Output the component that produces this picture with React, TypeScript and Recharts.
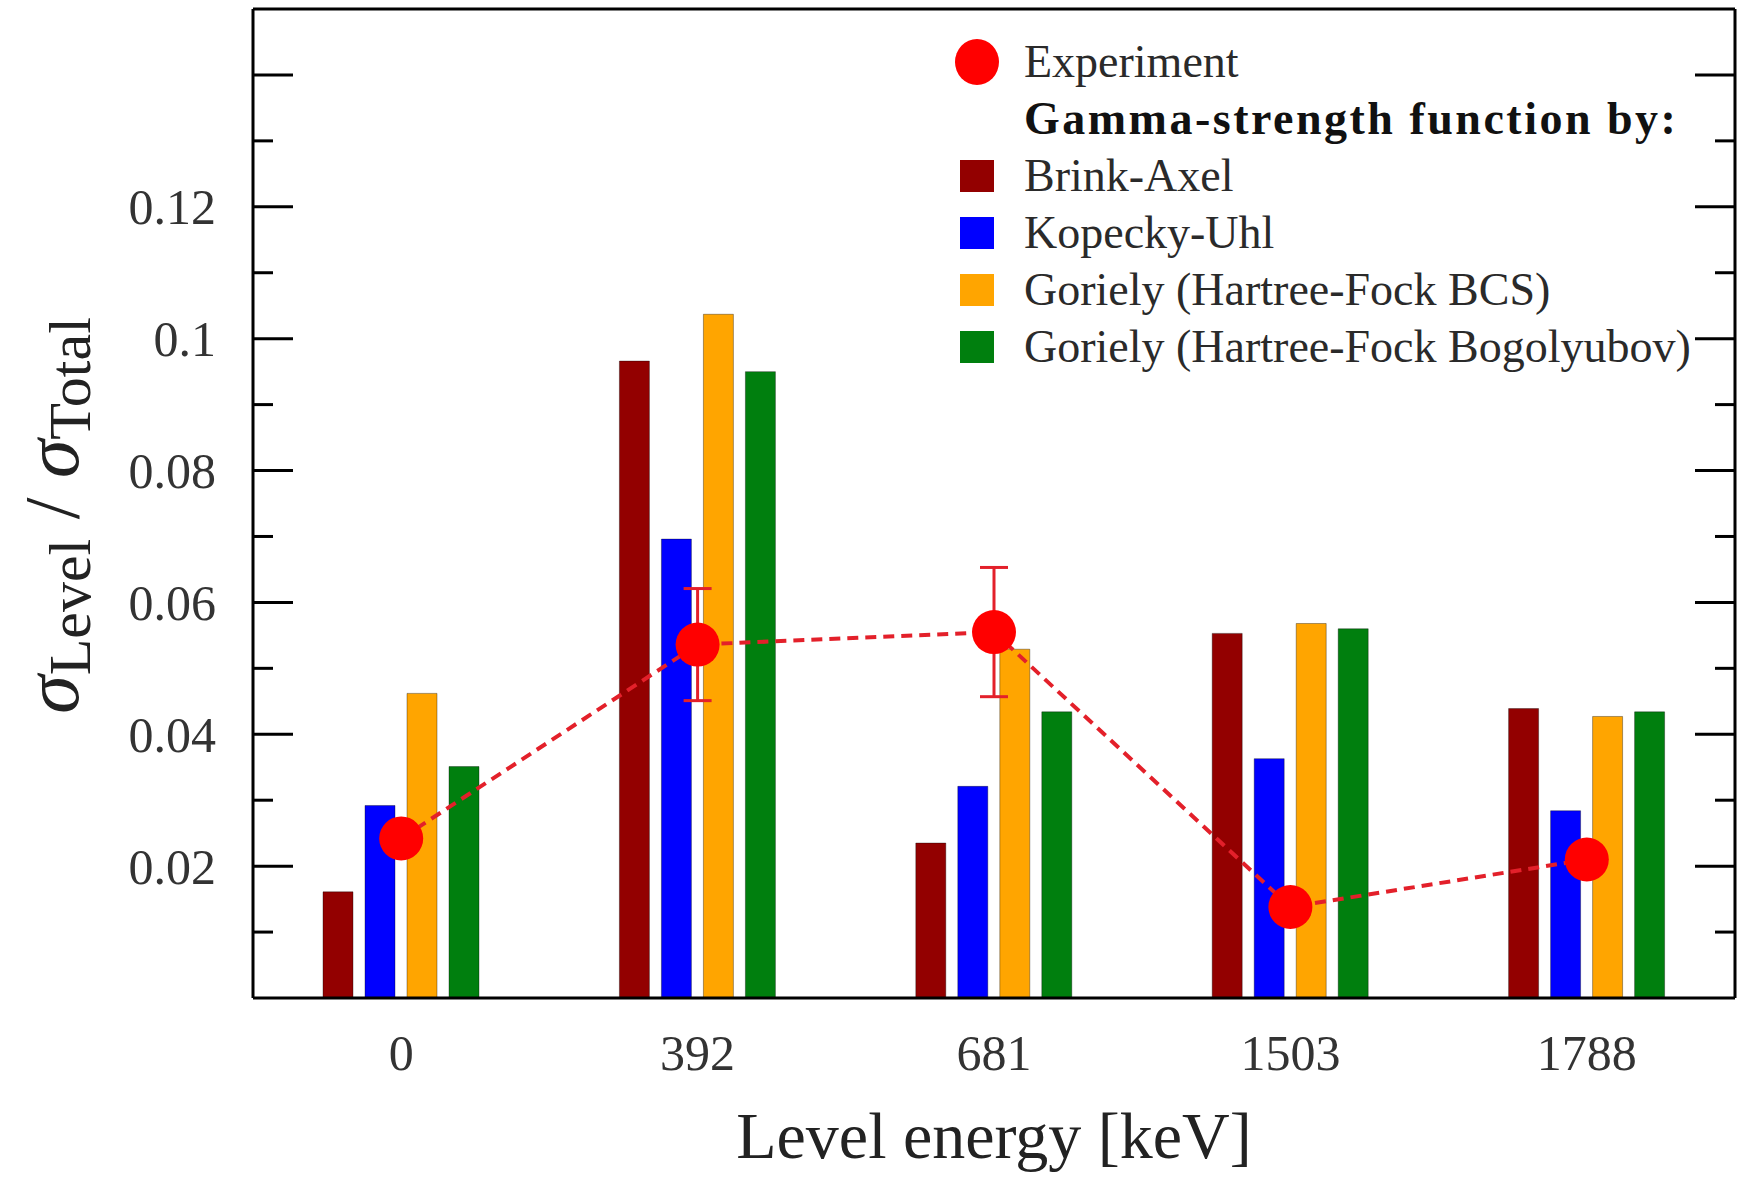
import React from 'react';
import { ComposedChart, Bar, Line, XAxis, YAxis, ErrorBar, Legend } from 'recharts';

// level energies (keV) and sigma_level / sigma_total per gamma-strength model
const levels = ['0', '392', '681', '1503', '1788'];
const brinkAxel = [0.0161, 0.0966, 0.0235, 0.0553, 0.0439];
const kopeckyUhl = [0.0292, 0.0696, 0.0321, 0.0363, 0.0284];
const gorielyBCS = [0.0462, 0.1037, 0.0529, 0.0568, 0.0427];
const gorielyHFB = [0.0351, 0.095, 0.0434, 0.056, 0.0434];
const experiment = [0.0242, 0.0536, 0.0555, 0.0138, 0.021];
const experimentErr = [0.0015, 0.0085, 0.0098, 0.0015, 0.0015];

const yTicks = [0.01, 0.02, 0.03, 0.04, 0.05, 0.06, 0.07, 0.08, 0.09, 0.1, 0.11, 0.12, 0.13, 0.14];
const yLabelled = [0.02, 0.04, 0.06, 0.08, 0.1, 0.12];

const series = [
  { key: 'ba', name: 'Brink-Axel', color: '#930000', values: brinkAxel },
  { key: 'ku', name: 'Kopecky-Uhl', color: '#0000ff', values: kopeckyUhl },
  { key: 'bcs', name: 'Goriely (Hartree-Fock BCS)', color: '#ffa500', values: gorielyBCS },
  { key: 'hfb', name: 'Goriely (Hartree-Fock Bogolyubov)', color: '#007f0e', values: gorielyHFB },
];

const data = levels.map((lvl, i) => {
  const row: any = { level: lvl, exp: experiment[i], err: experimentErr[i] };
  series.forEach(s => { row[s.key] = s.values[i]; });
  return row;
});

const W = 1738;
const H = 1177;
const LEFT_W = 253;
const RIGHT_W = 3;
const PLOT_W = W - LEFT_W - RIGHT_W;

const FONT = "'Liberation Serif', 'DejaVu Serif', serif";
const AXIS = { stroke: '#000', strokeWidth: 3 };

const isMajor = (v: number) => Math.round(v * 100) % 2 === 0;

// inward ticks on both the left and the right frame edge
const LeftTick = (props: any) => {
  const { x, y, payload } = props;
  const v = payload.value;
  const len = isMajor(v) ? 40 : 20;
  const xr = x + PLOT_W;
  return (
    <g>
      <line x1={x} x2={x + len} y1={y} y2={y} stroke="#000" strokeWidth={3} />
      <line x1={xr} x2={xr - len} y1={y} y2={y} stroke="#000" strokeWidth={3} />
      {yLabelled.includes(v) && (
        <text x={x - 37} y={y} dy="0.35em" textAnchor="end" fontFamily={FONT} fontSize={50} fill="#333">
          {String(v)}
        </text>
      )}
    </g>
  );
};

const BottomTick = (props: any) => {
  const { x, y, payload } = props;
  return (
    <text x={x} y={y + 72} textAnchor="middle" fontFamily={FONT} fontSize={50} fill="#333">
      {payload.value}
    </text>
  );
};

const XLabel = (props: any) => {
  const vb = props.viewBox;
  return (
    <text x={vb.x + vb.width / 2} y={1158} textAnchor="middle" fontFamily={FONT} fontSize={66} fill="#222">
      Level energy [keV]
    </text>
  );
};

const YLabel = (props: any) => {
  const vb = props.viewBox;
  const cx = 78;
  const cy = vb.y + vb.height / 2 + 12;
  return (
    <text x={cx} y={cy} transform={`rotate(-90 ${cx} ${cy})`} textAnchor="middle" fontFamily={FONT} fontSize={78} fill="#222">
      <tspan fontStyle="italic">σ</tspan>
      <tspan fontSize={60} dy={12}>Level</tspan>
      <tspan dy={-12}>{'\u00A0/\u00A0'}</tspan>
      <tspan fontStyle="italic">σ</tspan>
      <tspan fontSize={60} dy={12}>Total</tspan>
    </text>
  );
};

const ExpDot = (props: any) => {
  const { cx, cy } = props;
  if (cx == null || cy == null) return null;
  return <circle cx={cx} cy={cy} r={22} fill="#ff0000" />;
};

const LegendBox = () => (
  <div style={{ fontFamily: FONT, fontSize: 46, color: '#2a2a2a', lineHeight: '57px' }}>
    <div style={{ display: 'flex', alignItems: 'center', height: 57 }}>
      <div style={{ width: 44, display: 'flex', justifyContent: 'center' }}>
        <div style={{ width: 46, height: 46, borderRadius: '50%', background: '#ff0000' }} />
      </div>
      <span style={{ marginLeft: 25 }}>Experiment</span>
    </div>
    <div style={{ display: 'flex', alignItems: 'center', height: 57 }}>
      <div style={{ width: 44 }} />
      <span style={{ marginLeft: 25, fontWeight: 'bold', letterSpacing: 2.5, color: '#111', whiteSpace: 'nowrap' }}>
        Gamma-strength function by:
      </span>
    </div>
    {series.map(s => (
      <div key={s.key} style={{ display: 'flex', alignItems: 'center', height: 57 }}>
        <div style={{ width: 44, display: 'flex', justifyContent: 'center' }}>
          <div style={{ width: 34, height: 32, background: s.color }} />
        </div>
        <span style={{ marginLeft: 25, whiteSpace: 'nowrap' }}>{s.name}</span>
      </div>
    ))}
  </div>
);

export default function App() {
  return (
    <div style={{ position: 'absolute', left: 0, top: 0, width: W, height: H, background: '#fff' }}>
      <ComposedChart
        width={W}
        height={H}
        data={data}
        margin={{ top: 0, right: 0, bottom: 0, left: 0 }}
        barGap={12}
      >
        <XAxis
          dataKey="level"
          height={179}
          axisLine={AXIS}
          tickLine={false}
          tickSize={0}
          tickMargin={0}
          tick={<BottomTick />}
          interval={0}
          label={<XLabel />}
        />
        <XAxis xAxisId="top" dataKey="level" orientation="top" height={9} axisLine={AXIS} tickLine={false} tick={false} />
        <YAxis
          type="number"
          domain={[0, 0.15]}
          ticks={yTicks}
          width={LEFT_W}
          axisLine={AXIS}
          tickLine={false}
          tickSize={0}
          tickMargin={0}
          interval={0}
          tick={<LeftTick />}
          label={<YLabel />}
        />
        <YAxis
          yAxisId="right"
          orientation="right"
          type="number"
          domain={[0, 0.15]}
          width={RIGHT_W}
          axisLine={AXIS}
          tickLine={false}
          tick={false}
        />
        {series.map(s => (
          <Bar
            key={s.key}
            dataKey={s.key}
            name={s.name}
            fill={s.color}
            stroke="#000"
            strokeOpacity={0.35}
            strokeWidth={1}
            barSize={30}
            isAnimationActive={false}
          />
        ))}
        <Line
          dataKey="exp"
          name="Experiment"
          stroke="#e3202a"
          strokeWidth={4}
          strokeDasharray="11 7"
          dot={<ExpDot />}
          activeDot={false}
          isAnimationActive={false}
        >
          <ErrorBar dataKey="err" direction="y" width={14} stroke="#e3202a" strokeWidth={3} />
        </Line>
        <Legend
          layout="vertical"
          align="center"
          verticalAlign="middle"
          content={<LegendBox />}
          wrapperStyle={{ position: 'absolute', left: 955, top: 33, width: 'auto', height: 'auto' }}
        />
      </ComposedChart>
    </div>
  );
}
